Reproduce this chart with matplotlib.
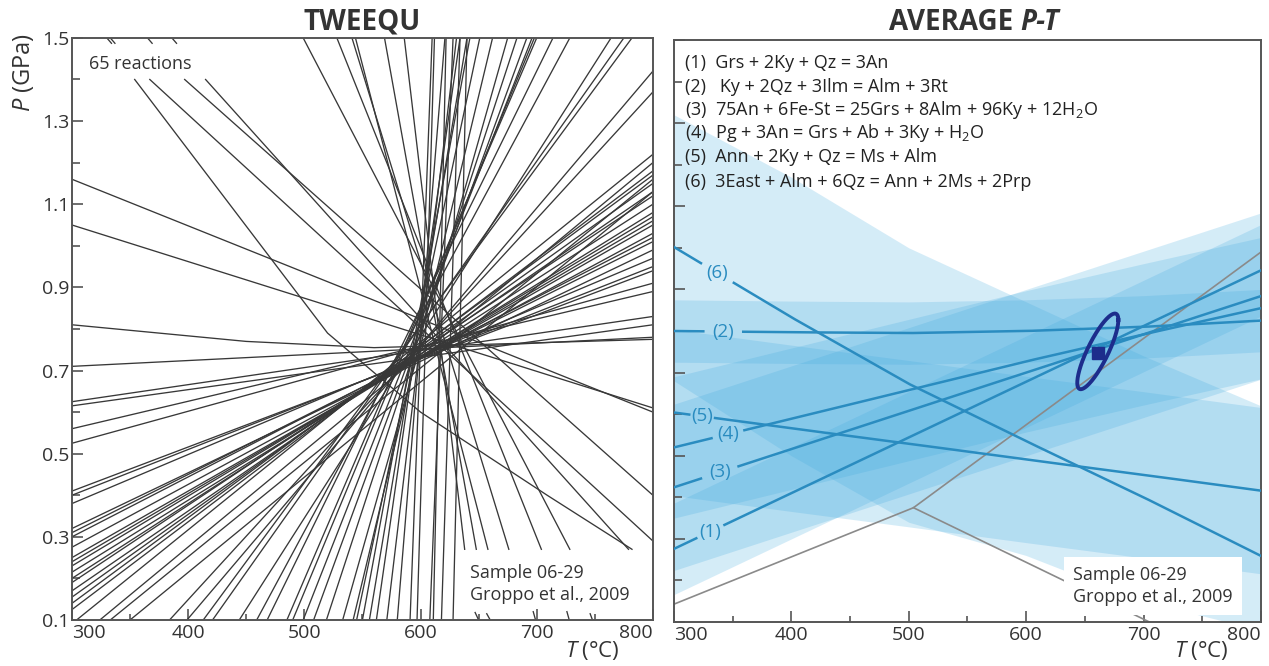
import numpy as np
import matplotlib
matplotlib.use('Agg')
import matplotlib.pyplot as plt
from matplotlib.ticker import MultipleLocator

plt.rcParams['font.family'] = ['Open Sans', 'DejaVu Sans']
plt.rcParams['mathtext.fontset'] = 'custom'
plt.rcParams['mathtext.rm'] = 'Open Sans'
plt.rcParams['mathtext.it'] = 'Open Sans:italic'
plt.rcParams['mathtext.bf'] = 'Open Sans:bold'

TXT = '#333333'
SPINE = '#555555'

# ---- TWEEQU panel: 65 reaction lines ----
# (P at T=300, P at T=800)
left_right = [(0.71, 0.78), (0.625, 0.83), (0.615, 0.81), (0.56, 0.89), (0.525, 0.91),
              (0.41, 0.94), (0.40, 0.95), (0.38, 0.97), (0.32, 0.99), (0.31, 1.01),
              (0.30, 1.02), (0.275, 1.03), (0.25, 1.05), (0.24, 1.06), (0.23, 1.07),
              (0.215, 1.08), (0.20, 1.10), (0.19, 1.12), (0.17, 1.13), (0.155, 1.15),
              (0.14, 1.17), (0.125, 1.18)]
# (T at P=0.1, P at T=800)
bottom_right = [(304, 1.22), (324, 1.20), (333, 1.16), (350, 1.13), (384, 1.37), (399, 1.42)]
# (T at P=0.1, T at P=1.5)
bottom_top = [(413, 782), (421, 775), (444, 764), (459, 728.5), (468, 714), (485, 700),
              (490, 698), (499, 696), (508, 691.5), (519, 683), (533, 675), (542, 662),
              (545, 651), (550, 642.5), (556, 640), (562, 634), (571, 631), (580, 621),
              (591, 610), (597, 612), (608, 628), (611, 622), (618, 634), (628, 640)]
# other reactions as (T, P) polylines
other_lines = [
    [(354, 1.4), (520, 0.79), (600, 0.6), (709, 0.4), (782, 0.27)],
    [(367, 1.4), (800, 0.29)],
    [(397, 1.4), (800, 0.40)],
    [(415, 1.4), (779, 0.27)],
    [(499, 1.5), (728.5, 0.27)],
    [(528, 1.5), (704, 0.27)],
    [(541, 1.5), (676, 0.27)],
    [(544, 1.5), (658, 0.27)],
    [(569, 1.5), (648, 0.27)],
    [(586, 1.5), (638, 0.27)],
    [(300, 1.16), (800, 0.60)],
    [(300, 1.05), (800, 0.61)],
    [(300, 0.81), (450, 0.77), (560, 0.755), (800, 0.775)],
]
# short broken-off pieces of lines at the top and bottom edges
stubs = [
    [(330, 1.5), (334, 1.487)], [(333, 1.5), (337, 1.487)], [(365, 1.5), (369, 1.487)],
    [(386, 1.5), (390, 1.487)],
    [(650, 0.1), (647, 0.118)], [(660, 0.1), (657, 0.115)], [(699, 0.1), (697, 0.12)],
    [(728, 0.1), (726, 0.12)], [(748, 0.1), (746, 0.115)],
]

# ---- AVERAGE P-T panel ----
rxn_T = [300, 400, 500, 600, 700, 800]
rxn_P = [
    [0.276, 0.41, 0.544, 0.678, 0.812, 0.946],   # (1)
    [0.80, 0.797, 0.795, 0.80, 0.81, 0.825],     # (2)
    [0.424, 0.516, 0.608, 0.70, 0.792, 0.884],   # (3)
    [0.52, 0.589, 0.658, 0.727, 0.792, 0.855],   # (4)
    [0.604, 0.566, 0.529, 0.491, 0.454, 0.416],  # (5)
    [1.002, 0.833, 0.673, 0.535, 0.40, 0.259],   # (6)
]
# uncertainty band edges at rxn_T
band_lo = [
    [0.166, 0.30, 0.434, 0.568, 0.702, 0.836],
    [0.725, 0.722, 0.72, 0.725, 0.735, 0.75],
    [0.224, 0.316, 0.408, 0.50, 0.592, 0.684],
    [0.35, 0.419, 0.488, 0.557, 0.622, 0.685],
    [0.404, 0.366, 0.329, 0.291, 0.254, 0.216],
    [0.68, 0.50, 0.34, 0.26, 0.15, 0.08],
]
band_hi = [
    [0.386, 0.52, 0.654, 0.788, 0.922, 1.056],
    [0.875, 0.872, 0.87, 0.875, 0.885, 0.90],
    [0.624, 0.716, 0.808, 0.90, 0.992, 1.084],
    [0.69, 0.759, 0.828, 0.897, 0.962, 1.025],
    [0.804, 0.766, 0.729, 0.691, 0.654, 0.616],
    [1.32, 1.17, 1.00, 0.87, 0.74, 0.62],
]
label_T = [331, 342, 339, 346, 324, 337]
label_gap = [12, 17, 16, 14, 11, 14]
legend_lines = [
    '(1)  Grs + 2Ky + Qz = 3An',
    '(2)   Ky + 2Qz + 3Ilm = Alm + 3Rt',
    '(3)  75An + 6Fe-St = 25Grs + 8Alm + 96Ky + 12H$_2$O',
    '(4)  Pg + 3An = Grs + Ab + 3Ky + H$_2$O',
    '(5)  Ann + 2Ky + Qz = Ms + Alm',
    '(6)  3East + Alm + 6Qz = Ann + 2Ms + 2Prp',
]
avg_T, sd_T = 661, 17.5
avg_P, sd_P = 0.751, 0.091
corr = 0.83
path_T = [300, 504, 800]
path_P = [0.143, 0.375, 0.99]
leader_T = [504, 705]
leader_P = [0.375, 0.10]

LINE_BLUE = '#2a8cc0'
BAND_BLUE = '#3fa9df'
NAVY = '#1d2d8c'

fig = plt.figure(figsize=(12.69, 6.66), dpi=100)
axL = fig.add_axes([0.0567, 0.0691, 0.4578, 0.874])
axR = fig.add_axes([0.5311, 0.066, 0.4626, 0.874])


def style(ax, ylabels):
    ax.set_xlim(300, 800)
    ax.set_ylim(0.1, 1.5)
    ax.xaxis.set_major_locator(MultipleLocator(100))
    ax.xaxis.set_minor_locator(MultipleLocator(50))
    ax.set_yticks(np.arange(0.1, 1.51, 0.2))
    ax.yaxis.set_minor_locator(MultipleLocator(0.1))
    ax.tick_params(which='both', direction='in', color=SPINE, width=1.2, labelcolor=TXT,
                   labelsize=14)
    ax.tick_params(axis='x', which='major', length=8, pad=3)
    ax.tick_params(axis='x', which='minor', length=4.5)
    ax.tick_params(axis='y', which='major', length=8, pad=2)
    ax.tick_params(axis='y', which='minor', length=5.5)
    for s in ax.spines.values():
        s.set_color(SPINE)
        s.set_linewidth(1.4)
    ax.set_xticks([300, 400, 500, 600, 700, 800])
    ax.set_xticklabels(['300', '400', '500', '600', '700', '800'])
    xl = ax.get_xticklabels()
    xl[0].set_ha('left')
    xl[-1].set_ha('right')
    if ylabels:
        ax.set_yticklabels(['0.1', '0.3', '0.5', '0.7', '0.9', '1.1', '1.3', '1.5'])
    else:
        ax.set_yticklabels([])


style(axL, True)
style(axR, False)

# left panel lines
lc = dict(color='#383838', lw=0.95)
for p0, p1 in left_right:
    axL.plot([300, 800], [p0, p1], **lc)
for t0, p1 in bottom_right:
    axL.plot([t0, 800], [0.1, p1], **lc)
for t0, t1 in bottom_top:
    axL.plot([t0, t1], [0.1, 1.5], **lc)
for pts in other_lines + stubs:
    axL.plot([p[0] for p in pts], [p[1] for p in pts], **lc)

axL.text(0.03, 0.955, '65 reactions', transform=axL.transAxes, fontsize=13, color=TXT,
         va='center', ha='left')
axL.text(0.685, 0.062, 'Sample 06-29\nGroppo et al., 2009', transform=axL.transAxes,
         fontsize=13, color=TXT, va='center', ha='left', linespacing=1.3)

# right panel: bands
for lo, hi in zip(band_lo, band_hi):
    axR.fill_between(rxn_T, lo, hi, color=BAND_BLUE, alpha=0.22, lw=0, zorder=1)

axR.plot(path_T, path_P, color='#8a8a8a', lw=1.2, zorder=2)
axR.plot(leader_T, leader_P, color='#8a8a8a', lw=1.2, zorder=2)

Tf = np.linspace(300, 800, 1001)
for i, P in enumerate(rxn_P):
    Pf = np.interp(Tf, rxn_T, P)
    Pf[np.abs(Tf - label_T[i]) < label_gap[i]] = np.nan
    axR.plot(Tf, Pf, color=LINE_BLUE, lw=1.8, zorder=3)
    axR.text(label_T[i], np.interp(label_T[i], rxn_T, P), '(%d)' % (i + 1), color=LINE_BLUE,
             fontsize=13.5, ha='center', va='center', zorder=3)

# error ellipse of the average P-T
cov = np.array([[sd_T ** 2, corr * sd_T * sd_P], [corr * sd_T * sd_P, sd_P ** 2]])
L = np.linalg.cholesky(cov)
t = np.linspace(0, 2 * np.pi, 200)
ell = L @ np.vstack([np.cos(t), np.sin(t)])
axR.plot(avg_T + ell[0], avg_P + ell[1], color=NAVY, lw=2.8, zorder=4)
axR.plot([avg_T], [avg_P - 0.005], 's', color=NAVY, ms=8, zorder=5)

ys = [0.9605, 0.919, 0.8797, 0.840, 0.799, 0.756]
for y, s in zip(ys, legend_lines):
    axR.text(0.0187, y, s, transform=axR.transAxes, fontsize=13, color='#222222',
             ha='left', va='center', zorder=6)

axR.text(0.68, 0.062, 'Sample 06-29\nGroppo et al., 2009', transform=axR.transAxes,
         fontsize=13, color=TXT, va='center', ha='left', linespacing=1.3, zorder=6,
         bbox=dict(boxstyle='square,pad=0.5', fc='white', ec='none'))

# titles and axis labels
fig.text(362 / 1269, 1 - 22 / 666, 'TWEEQU', fontsize=20, fontweight='bold', color=TXT,
         ha='center', va='center')
fig.text(1020 / 1269, 1 - 23 / 666, 'AVERAGE ', fontsize=20, fontweight='bold', color=TXT,
         ha='right', va='center')
fig.text(1020 / 1269, 1 - 23 / 666, 'P-T', fontsize=20, fontweight='bold', style='italic',
         color=TXT, ha='left', va='center')
fig.text(24 / 1269, 1 - 72 / 666, '$P$ (GPa)', fontsize=17, color=TXT, rotation=90,
         ha='center', va='center')
fig.text(592 / 1269, 1 - 651 / 666, '$T$ (°C)', fontsize=16, color=TXT, ha='center',
         va='center')
fig.text(1201 / 1269, 1 - 650 / 666, '$T$ (°C)', fontsize=16, color=TXT, ha='center',
         va='center')

fig.savefig('out.png', dpi=100)
